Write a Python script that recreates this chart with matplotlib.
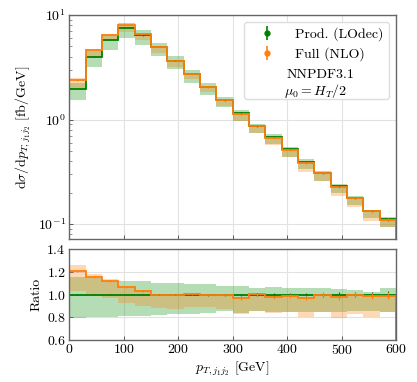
import numpy as np
import matplotlib
matplotlib.use("Agg")
import matplotlib.pyplot as plt
from matplotlib.lines import Line2D

plt.rcParams.update({
    "font.family": "serif",
    "font.serif": ["cmr10"],
    "mathtext.fontset": "cm",
    "axes.formatter.use_mathtext": True,
    "font.size": 10,
})

# ---- data ----
bin_edges = [0, 30, 60, 90, 120, 150, 180, 210, 240, 270, 300,
             330, 360, 390, 420, 450, 480, 510, 540, 570, 600]
# Prod. (LOdec) central values [fb/GeV]
prod_central = [1.96, 4.0, 5.78, 7.47, 6.4, 4.92, 3.66, 2.72, 2.05, 1.53,
                1.16, 0.86, 0.68, 0.518, 0.395, 0.306, 0.232, 0.177, 0.134, 0.111]
# Prod. scale band relative to its central value
prod_lo_rel = [0.793, 0.80, 0.805, 0.81, 0.815, 0.82, 0.825, 0.83, 0.84, 0.855,
               0.84, 0.86, 0.85, 0.847, 0.847, 0.847, 0.85, 0.855, 0.86, 0.847]
prod_hi_rel = [1.154, 1.145, 1.12, 1.12, 1.12, 1.105, 1.10, 1.09, 1.09, 1.073,
               1.073, 1.055, 1.065, 1.055, 1.055, 1.06, 1.05, 1.04, 1.025, 1.06]
# Full (NLO) relative to Prod. central
full_ratio = [1.21, 1.155, 1.12, 1.068, 1.032, 1.0, 1.0, 1.005, 0.995, 1.0,
              0.968, 1.003, 0.977, 0.99, 0.972, 1.0, 0.975, 1.0, 0.99, 0.99]
full_lo_rel = [1.03, 0.995, 0.966, 0.927, 0.897, 0.88, 0.875, 0.89, 0.89, 0.875,
               0.83, 0.86, 0.84, 0.847, 0.80, 0.85, 0.795, 0.826, 0.80, 0.847]
full_hi_rel = [1.263, 1.186, 1.135, 1.075, 1.04, 1.01, 1.01, 1.015, 1.005, 1.01,
               0.978, 1.013, 0.987, 1.0, 0.982, 1.01, 0.985, 1.01, 1.0, 1.0]
# relative statistical errors
prod_stat = [0.004, 0.004, 0.004, 0.004, 0.005, 0.005, 0.006, 0.007, 0.008, 0.009,
             0.010, 0.011, 0.012, 0.014, 0.016, 0.018, 0.020, 0.022, 0.025, 0.028]
full_stat = [0.005, 0.005, 0.005, 0.005, 0.006, 0.006, 0.007, 0.008, 0.009, 0.010,
             0.012, 0.013, 0.014, 0.016, 0.018, 0.020, 0.022, 0.025, 0.028, 0.030]

edges = np.array(bin_edges, float)
centers = 0.5 * (edges[:-1] + edges[1:])
g = np.array(prod_central)
g_lo, g_hi = g * np.array(prod_lo_rel), g * np.array(prod_hi_rel)
r_o = np.array(full_ratio)
o = g * r_o
o_lo, o_hi = g * np.array(full_lo_rel), g * np.array(full_hi_rel)

GC = "green"
OC = "tab:orange"
GB = "tab:green"

fig = plt.figure(figsize=(4.17, 3.82), dpi=100)
ax = fig.add_axes([0.166, 0.3743, 0.784, 0.5864])
axr = fig.add_axes([0.166, 0.110, 0.784, 0.2374], sharex=ax)

def step_fill(a, lo, hi, color, alpha):
    a.fill_between(edges, np.append(lo, lo[-1]), np.append(hi, hi[-1]),
                   step="post", color=color, alpha=alpha, lw=0)

for a in (ax, axr):
    a.grid(True, color="#e2e2e2", lw=0.8)
    a.set_axisbelow(True)
    for s in a.spines.values():
        s.set_color("#666666")
        s.set_linewidth(1.0)
    a.tick_params(direction="in", colors="#444444", labelcolor="black",
                  length=3, width=0.6, pad=2.5)
    a.tick_params(which="minor", direction="in", length=2, width=0.5, colors="#666666")

# main panel
step_fill(ax, g_lo, g_hi, GB, 0.35)
step_fill(ax, o_lo, o_hi, OC, 0.3)
ax.stairs(g, edges, baseline=0, color=GC, lw=1.3)
ax.stairs(o, edges, baseline=0, color=OC, lw=1.3)
ax.errorbar(centers, g, yerr=g * np.array(prod_stat), fmt="none", ecolor=GC, elinewidth=0.8)
ax.errorbar(centers, o, yerr=o * np.array(full_stat), fmt="none", ecolor=OC, elinewidth=0.8)
ax.set_yscale("log")
ax.set_ylim(0.072, 10)
ax.set_xlim(0, 600)
ax.set_ylabel(r"$\mathrm{d}\sigma/\mathrm{d}p_{T,j_1j_2}$ [fb/GeV]", labelpad=3)
plt.setp(ax.get_xticklabels(), visible=False)

e1 = ax.errorbar([], [], yerr=[], color=GC, fmt="o", ms=3.5, elinewidth=1.2)
e2 = ax.errorbar([], [], yerr=[], color=OC, fmt="o", ms=3.5, elinewidth=1.2)
blank = Line2D([], [], color="none")
leg = ax.legend([e1, e2, blank], ["Prod. (LOdec)", "Full (NLO)", "\n"],
                loc="upper right", fontsize=10, handlelength=2.5,
                labelspacing=0.45, framealpha=1, edgecolor="#dddddd")
ax.text(0.666, 0.733, "NNPDF3.1", transform=ax.transAxes, fontsize=10,
        va="center", ha="left", zorder=10)
ax.text(0.658, 0.663, r"$\mu_0 = H_T/2$", transform=ax.transAxes, fontsize=10,
        va="center", ha="left", zorder=10)

# ratio panel
one = np.ones_like(g)
step_fill(axr, np.array(prod_lo_rel), np.array(prod_hi_rel), GB, 0.35)
step_fill(axr, np.array(full_lo_rel), np.array(full_hi_rel), OC, 0.3)
axr.stairs(one, edges, baseline=0, color=GC, lw=1.3)
axr.stairs(r_o, edges, baseline=0, color=OC, lw=1.3)
axr.errorbar(centers, one, yerr=np.array(prod_stat), fmt="none", ecolor=GC, elinewidth=0.8)
axr.errorbar(centers, r_o, yerr=r_o * np.array(full_stat), fmt="none", ecolor=OC, elinewidth=0.8)
axr.set_ylim(0.6, 1.4)
axr.set_yticks([0.6, 0.8, 1.0, 1.2, 1.4])
axr.set_xticks([0, 100, 200, 300, 400, 500, 600])
axr.set_xlim(0, 600)
axr.set_ylabel("Ratio", labelpad=3)
axr.set_xlabel(r"$p_{T,j_1j_2}$ [GeV]", labelpad=2)
fig.align_ylabels([ax, axr])

fig.savefig("out.png", dpi=100)
